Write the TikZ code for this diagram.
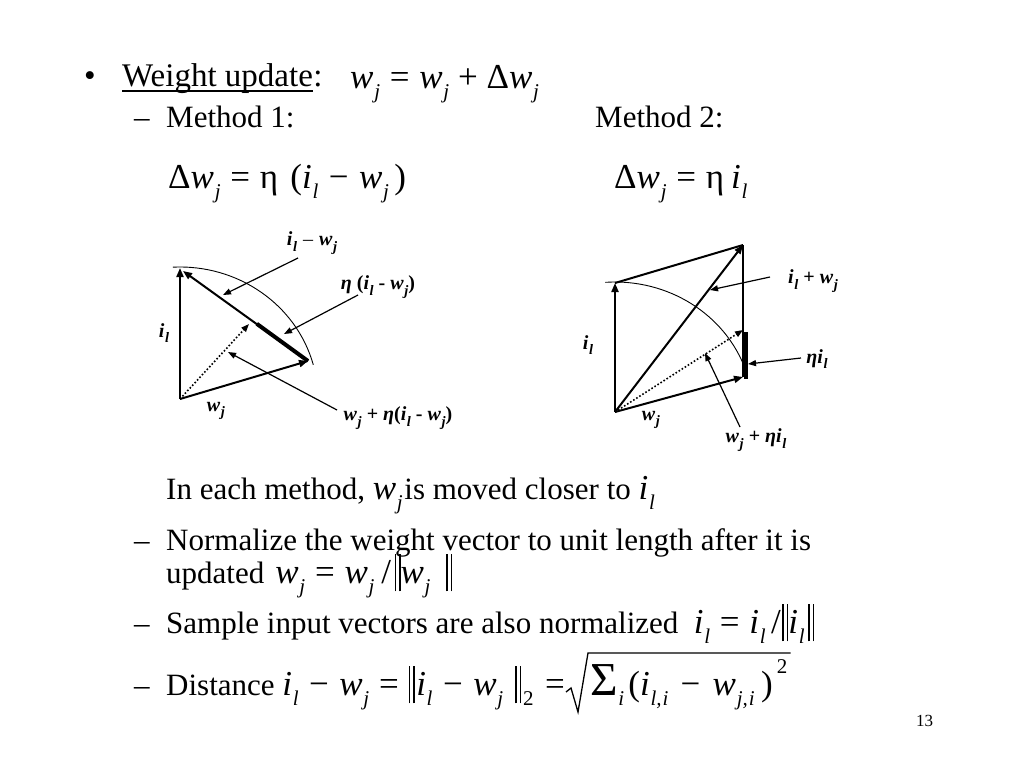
\documentclass[tikz,border=0pt]{standalone}
\usepackage{amsmath}
\usepackage{graphicx}
\usepackage[no-math]{fontspec}
\setmainfont{Liberation Serif}
\usetikzlibrary{arrows.meta,calc}
\newcommand\lo[1]{\kern0.02em\raisebox{-0.3em}{\scalebox{0.6}{\textit{#1}}}}
\newcommand\V[2]{\textit{#1}\lo{#2}}
\newcommand\eqs{\kern0.28em=\kern0.28em}
\newcommand\mns{\kern0.3em−\kern0.3em}
\newcommand\pls{\kern0.25em+\kern0.25em}
\newcommand\nb{\raisebox{-0.24em}{\rule{0.045em}{1.08em}\kern0.08em\rule{0.045em}{1.08em}}}
\newcommand\bv[2]{\textbf{\textit{#1}}\kern0.03em\raisebox{-0.28em}{\scalebox{0.72}{\textbf{\textit{#2}}}}}
\tikzset{
  txt/.style={inner sep=0pt, anchor=base west, font=\fontsize{31}{36}\selectfont},
  toptxt/.style={inner sep=0pt, anchor=base west, font=\fontsize{33}{38}\selectfont},
  eq/.style={inner sep=0pt, anchor=base west, font=\fontsize{35}{40}\selectfont},
  lbl/.style={inner sep=0pt, font=\fontsize{20}{24}\selectfont},
  vec/.style={line width=2pt, -{Triangle[length=9pt,width=7pt]}},
  edge/.style={line width=2pt},
  pointer/.style={line width=1.2pt, -{Triangle[length=8pt,width=6pt]}},
  dotvec/.style={line width=1.6pt, dotted, -{Triangle[length=8pt,width=6pt]}},
  thickseg/.style={line width=4pt},
  arcline/.style={line width=0.9pt},
  radical/.style={line width=1.3pt, line join=miter}
}
\begin{document}
\begin{tikzpicture}[x=1pt,y=-1pt]
\useasboundingbox[fill=white] (0,0) rectangle (1024,768);
% ---- text ----
\node[toptxt] (bul) at (84,86) {•};
\node[toptxt] (wu) at (122,86) {Weight update};
\node[toptxt, anchor=base west] (colon) at (wu.base east) {:};
\draw[line width=1.3pt] ($(wu.base west)+(0,5)$) -- ($(wu.base east)+(0,5)$);
\node[eq] (eq0) at (350,88) {\V{w}{j}\eqs\V{w}{j}\pls Δ\V{w}{j}};
\node[txt] (d1) at (134,127) {–};
\node[txt] (m1) at (166,127) {Method 1:};
\node[txt] (m2) at (595,127) {Method 2:};
\node[eq] (eq1) at (168,188) {Δ\V{w}{j}\eqs η\kern0.35em(\textit{i}\lo{l}\mns\V{w}{j}\kern0.15em)};
\node[eq] (eq2) at (614,188) {Δ\V{w}{j}\eqs η\kern0.2em\V{i}{l}};
\node[txt] (each) at (166,499) {In each method, {\fontsize{35}{40}\selectfont\V{w}{j}\kern0.05em}is moved closer to {\fontsize{35}{40}\selectfont\V{i}{l}}};
\node[txt] (d2) at (134,550) {–};
\node[txt] (norm) at (166,550) {Normalize the weight vector to unit length after it is};
\node[txt] (upd) at (166,583) {updated\kern11pt{\fontsize{35}{40}\selectfont\V{w}{j}\eqs\V{w}{j}\kern0.2em/\kern0.1em\nb\V{w}{j}\kern0.45em\nb}};
\node[txt] (d3) at (134,633) {–};
\node[txt] (samp) at (166,633) {Sample input vectors are also normalized \ {\fontsize{35}{40}\selectfont\V{i}{l}\eqs\V{i}{l}\kern0.15em/\kern0.05em\nb\V{i}{l}\kern0.1em\nb}};
\node[txt] (d4) at (134,695) {–};
\node[txt] (dist) at (166,695) {Distance {\fontsize{35}{40}\selectfont\V{i}{l}\mns\V{w}{j}\eqs\nb\kern0.05em\V{i}{l}\mns\V{w}{j}\kern0.35em\nb\kern0.05em\raisebox{-0.3em}{\scalebox{0.6}{2}}}};
\node[eq] (deq) at (545,695) {=};
\node[eq] (sum) at (590,695) {\scalebox{1.35}{Σ}\lo{i}\kern0.12em(\textit{i}\lo{l,\kern0.05em i}\kern0.35em−\kern0.35em\V{w}{j,\kern0.05em i}\kern0.18em)\kern0.12em\raisebox{0.62em}{\scalebox{0.6}{2}}};
\draw[radical] ($(sum.base west)+(-24,-3)$) -- ($(sum.base west)+(-19,-7)$) -- ($(sum.base west)+(-12,17)$) -- ($(sum.base west)+(-2,-42)$) -- ($(sum.base east)+(3,-42)$);
\node[inner sep=0pt, anchor=base west, font=\fontsize{17}{20}\selectfont] (pg) at (916,726) {13};
% ---- left diagram ----
\coordinate (O1) at (180,399);
\coordinate (I1) at (180,268);
\coordinate (W1) at (308,361);
\coordinate (P1) at ($(W1)!0.4!(I1)$);
\coordinate (Q1) at (249,324);
\draw[arcline] (O1) ++(-93:138 and 132) arc[start angle=-93, end angle=-15, x radius=138, y radius=132];
\draw[vec] (O1) -- (I1);
\draw[vec] (O1) -- (W1);
\draw[vec] (W1) -- (183,271);
\draw[thickseg] (W1) -- (P1);
\draw[dotvec] (O1) -- (Q1);
\node[lbl] (la) at (312,243) {\bv{i}{l}\kern0.3em–\kern0.3em\bv{w}{j}};
\node[lbl] (lb) at (378,287) {\textbf{\textit{η}} \textbf{(}\bv{i}{l} \textbf{-} \bv{w}{j}\textbf{)}};
\node[lbl] (lc) at (398,418) {\bv{w}{j} \textbf{+} \textbf{\textit{η}}\textbf{(}\bv{i}{l} \textbf{-} \bv{w}{j}\textbf{)}};
\node[lbl] (li1) at (164,333) {\bv{i}{l}};
\node[lbl] (lw1) at (216,411) {\bv{w}{j}};
\coordinate (ta) at (223,295);
\coordinate (tb) at (284,334);
\coordinate (tc) at (228,352);
\draw[pointer] (298,258) -- (ta);
\draw[pointer] (358,295) -- (tb);
\draw[pointer] (337,410) -- (tc);
% ---- right diagram ----
\coordinate (O2) at (615,412);
\coordinate (I2) at (615,283);
\coordinate (S2) at (743,245);
\coordinate (W2) at (743,377);
\coordinate (E2) at (743,330);
\draw[arcline] (O2) ++(-94:138 and 130) arc[start angle=-94, end angle=-19, x radius=138, y radius=130];
\draw[vec] (O2) -- (I2);
\draw[vec] (O2) -- (W2);
\draw[vec] (O2) -- (S2);
\draw[edge] (I2) -- (S2);
\draw[edge] (W2) -- (S2);
\draw[thickseg] (746,332) -- (746,379);
\draw[dotvec] (O2) -- (E2);
\node[lbl] (ld) at (813,281) {\bv{i}{l}\kern0.25em\textbf{+}\kern0.25em\bv{w}{j}};
\node[lbl] (le) at (817,359) {\textbf{\textit{η}}\bv{i}{l}};
\node[lbl] (lf) at (756,440) {\bv{w}{j}\kern0.25em\textbf{+}\kern0.25em\textbf{\textit{η}}\bv{i}{l}};
\node[lbl] (li2) at (588,345) {\bv{i}{l}};
\node[lbl] (lw2) at (651,420) {\bv{w}{j}};
\coordinate (td) at (710,290);
\coordinate (te) at (748,364);
\coordinate (tf) at (705,353);
\draw[pointer] (770,277) -- (td);
\draw[pointer] (801,358) -- (te);
\draw[pointer] (740,427) -- (tf);
\end{tikzpicture}
\end{document}
